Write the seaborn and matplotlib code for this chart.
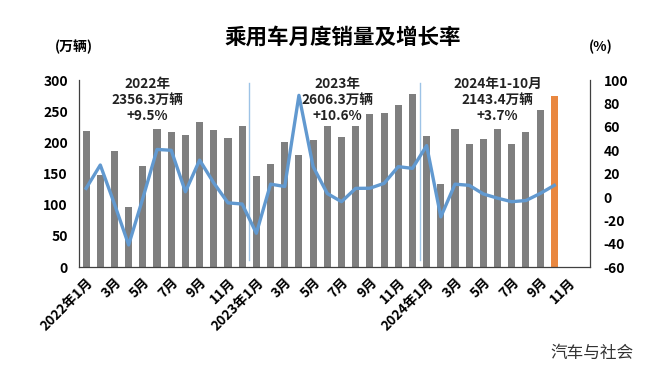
import numpy as np
import pandas as pd
import seaborn as sns
import matplotlib
matplotlib.use("Agg")
import matplotlib.pyplot as plt
from matplotlib.transforms import ScaledTranslation

# monthly passenger car sales (万辆) and YoY growth (%), 2022-01 .. 2024-10
years = [2022, 2023, 2024]
months = [f"{y}年1月" if m == 1 else f"{m}月" for y in years for m in range(1, 13)]
month_keys = [f"{y}-{m:02d}" for y in years for m in range(1, 13)]

sales = [218.6, 148.2, 186.4, 96.5, 162.1, 222.2, 217.0, 211.9, 233.2, 220.7, 207.9, 225.8,
         146.5, 165.0, 201.0, 180.6, 203.5, 226.0, 209.0, 226.0, 246.0, 247.0, 259.6, 278.0,
         210.0, 133.0, 222.0, 198.0, 206.0, 221.0, 198.0, 217.0, 251.6, 274.0]
growth = [7.4, 27.4, -6.0, -41.0, -1.0, 40.7, 40.0, 4.5, 31.6, 12.0, -5.0, -6.0,
          -31.0, 11.0, 9.0, 87.0, 26.0, 3.0, -4.0, 7.4, 7.5, 11.7, 26.0, 24.5,
          44.0, -17.0, 11.0, 10.0, 2.6, -1.0, -4.0, -3.0, 3.0, 10.0]

year_notes = ["2022年\n2356.3万辆\n+9.5%", "2023年\n2606.3万辆\n+10.6%", "2024年1-10月\n2143.4万辆\n+3.7%"]

df = pd.DataFrame({"month": month_keys[:len(sales)], "sales": sales, "growth": growth})
df["pos"] = np.arange(len(df))

plt.rcParams['font.family'] = ['Noto Sans CJK SC', 'DejaVu Sans']
plt.rcParams['axes.unicode_minus'] = False

gray = "#7F7F7F"
orange = "#E9873F"
blue = "#6199D0"
palette = {k: gray for k in df["month"]}
palette[df["month"].iloc[-1]] = orange

fig = plt.figure(figsize=(6.46, 3.70), dpi=100)
ax = fig.add_axes([0.1223, 0.278, 0.7907, 0.5054])

sns.barplot(data=df, x="month", y="sales", hue="month", palette=palette,
            order=month_keys, width=0.5, legend=False, ax=ax, saturation=1)
ax.set_xlim(-0.5, len(month_keys) - 0.5)
ax.set_ylim(0, 300)
ax.set_yticks(range(0, 301, 50))
ax.set_xlabel("")
ax.set_ylabel("")

ax2 = ax.twinx()
sns.lineplot(data=df, x="pos", y="growth", color=blue, linewidth=2.4, ax=ax2)
ax2.set_ylim(-60, 100)
ax2.set_yticks(range(-60, 101, 20))
ax2.set_ylabel("")
ax2.set_xlim(-0.5, len(month_keys) - 0.5)

# year separators
for b in [11.5, 23.5]:
    ax.axvline(b, ymin=0.04, ymax=0.985, color="#9DC3E6", lw=1)

ax.set_xticks(range(0, len(month_keys), 2))
ax.set_xticklabels(months[::2], rotation=45, ha="right", rotation_mode="anchor",
                   fontsize=9.8, fontweight="bold")
shift = ScaledTranslation(-4 / 100, 0, fig.dpi_scale_trans)
for lab in ax.get_xticklabels():
    lab.set_transform(lab.get_transform() + shift)
ax.tick_params(axis="x", length=0, pad=6)
ax.tick_params(axis="y", length=0, pad=8, labelsize=10)
ax2.tick_params(axis="y", length=0, pad=10, labelsize=10)
for lab in ax.get_yticklabels() + ax2.get_yticklabels():
    lab.set_fontweight("bold")

for a in [ax, ax2]:
    a.spines["top"].set_visible(False)
    for s in ["left", "right", "bottom"]:
        a.spines[s].set_color("#404040")
        a.spines[s].set_linewidth(0.9)
ax.spines["right"].set_visible(False)
ax2.spines["left"].set_visible(False)
ax2.spines["bottom"].set_visible(False)

# yearly totals
for x, note in zip([4.3, 17.7, 29.0], year_notes):
    ax2.text(x, 102.5, note, ha="center", va="top", fontsize=9.8, fontweight="bold",
             linespacing=1.15, color="#222222", clip_on=False)

fig.text(0.53, 0.9, "乘用车月度销量及增长率", ha="center", va="center",
         fontsize=15.5, fontweight="bold")
fig.text(0.115, 0.873, "(万辆)", ha="center", va="center", fontsize=10, fontweight="bold")
fig.text(0.93, 0.873, "(%)", ha="center", va="center", fontsize=10, fontweight="bold")
fig.text(0.917, 0.045, "汽车与社会", ha="center", va="center", fontsize=12, color="#333333")

fig.savefig("out.png", dpi=100)
